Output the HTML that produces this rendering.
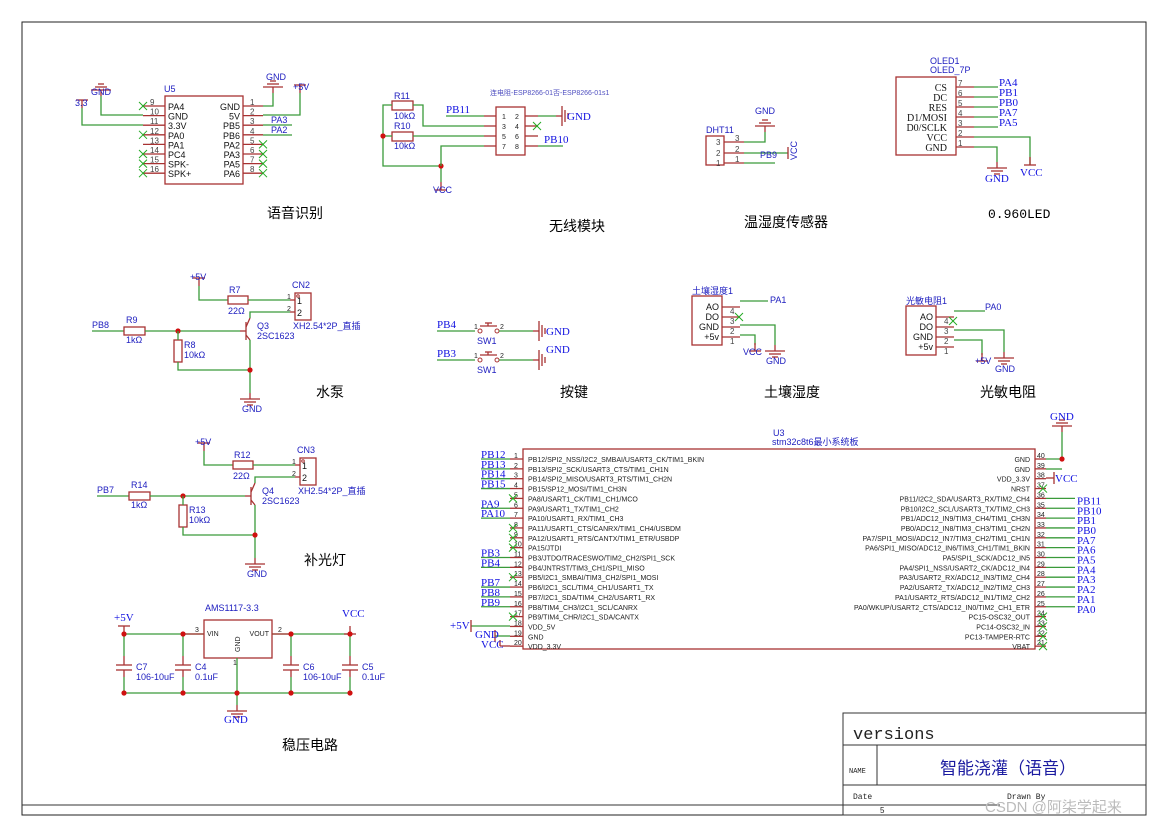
<!DOCTYPE html>
<html><head><meta charset="utf-8"><style>
body{margin:0;background:#fff}
svg{display:block}
text{font-family:"Liberation Sans","Noto Sans CJK SC",sans-serif}
.r{stroke:#a83232;fill:none;stroke-width:1.3}
.g{stroke:#3a9a3a;fill:none;stroke-width:1.3}
.lb{fill:#2020c0;font-size:9px}
.bl{fill:#1010e0;font-family:"Liberation Serif",serif;font-size:11px}
.k{fill:#111;font-size:9px}
.n{fill:#444;font-size:8px}
.s{fill:#222;font-size:7px}
.cn{fill:#000;font-size:14px;font-family:"Liberation Sans","Noto Sans CJK SC",sans-serif}
.x{stroke:#2a2;stroke-width:1}
.d{fill:#d01010}
</style></head><body>
<svg id="s" width="1170" height="825" viewBox="0 0 1170 825" xmlns="http://www.w3.org/2000/svg">
<rect x="22" y="22" width="1124" height="793" fill="none" stroke="#222" stroke-width="1"/>
<g stroke="#333" fill="none"><rect x="843" y="713" width="303" height="102"/><line x1="843" y1="745" x2="1146" y2="745"/><line x1="843" y1="785" x2="1146" y2="785"/><line x1="877" y1="745" x2="877" y2="785"/><line x1="22" y1="805" x2="1000" y2="805"/></g>
<text x="853" y="739" style="font-family:'Liberation Mono',monospace;font-size:17px" fill="#222">versions</text>
<text x="849" y="773" style="font-family:'Liberation Mono',monospace;font-size:7px" fill="#222">NAME</text>
<text x="940" y="774" style="font-size:17px" fill="#1a1aa0">智能浇灌（语音）</text>
<text x="853" y="799" style="font-family:'Liberation Mono',monospace;font-size:8px" fill="#222">Date</text>
<text x="1007" y="799" style="font-family:'Liberation Mono',monospace;font-size:8px" fill="#222">Drawn By</text>
<text x="880" y="813" style="font-size:8px" fill="#222">5</text>
<text x="985" y="812" style="font-size:15px" fill="#bbb">CSDN @阿柒学起来</text>
<g id="dyn"></g>
<text class="cn" x="267" y="218">语音识别</text>
<text class="cn" x="549" y="231">无线模块</text>
<text class="cn" x="744" y="227">温湿度传感器</text>
<text x="988" y="218" style="font-family:'Liberation Mono',monospace;font-size:13px" fill="#000">0.960LED</text>
<text class="cn" x="316" y="397">水泵</text>
<text class="cn" x="560" y="397">按键</text>
<text class="cn" x="764" y="397">土壤湿度</text>
<text class="cn" x="980" y="397">光敏电阻</text>
<text class="cn" x="304" y="565">补光灯</text>
<text class="cn" x="282" y="750">稳压电路</text>
<text x="490" y="95" style="font-size:7px" fill="#5050c0">连电阻-ESP8266-01否-ESP8266-01s1</text>
</svg>
<script>
var o='';
function L(c,a){for(var i=0;i<a.length;i+=4)o+='<line class="'+c+'" x1="'+a[i]+'" y1="'+a[i+1]+'" x2="'+a[i+2]+'" y2="'+a[i+3]+'"/>';}
function P(c,p){o+='<polyline class="'+c+'" points="'+p+'"/>';}
function R(x,y,w,h){o+='<rect class="r" x="'+x+'" y="'+y+'" width="'+w+'" height="'+h+'"/>';}
function T(c,x,y,t,a){o+='<text class="'+c+'" x="'+x+'" y="'+y+'"'+(a?' text-anchor="'+a+'"':'')+'>'+t+'</text>';}
function X(x,y){o+='<line class="x" x1="'+(x-4)+'" y1="'+(y-4)+'" x2="'+(x+4)+'" y2="'+(y+4)+'"/><line class="x" x1="'+(x-4)+'" y1="'+(y+4)+'" x2="'+(x+4)+'" y2="'+(y-4)+'"/>';}
function D(x,y){o+='<circle class="d" cx="'+x+'" cy="'+y+'" r="2.6"/>';}
function G(x,y){L('r',[x,y,x,y+6,x-10,y+6,x+10,y+6,x-6,y+9,x+6,y+9,x-3,y+12,x+3,y+12]);}
function GU(x,y){L('r',[x,y,x,y-6,x-10,y-6,x+10,y-6,x-6,y-9,x+6,y-9,x-3,y-12,x+3,y-12]);}
function GR(x,y){L('r',[x,y,x+6,y,x+6,y-10,x+6,y+10,x+9,y-6,x+9,y+6,x+12,y-3,x+12,y+3]);}
function V(x,y){L('r',[x,y,x,y-8,x-6,y-8,x+6,y-8]);}
function VD(x,y){L('r',[x,y,x,y+8,x-6,y+8,x+6,y+8]);}
// voice
R(165,96,78,88);T('lb',164,92,'U5');
var ll=['PA4','GND','3.3V','PA0','PA1','PC4','SPK-','SPK+'],rl=['GND','5V','PB5','PB6','PA2','PA3','PA5','PA6'];
for(var i=0;i<8;i++){var y=106+i*9.6;L('r',[143,y,165,y,243,y,263,y]);T('k',168,y+4,ll[i]);T('k',240,y+4,rl[i],'end');T('n',150,y-1,9+i);T('n',250,y-1,i+1);if(i>=4)X(263,y);if(i==0||i>=3&&i!=4)X(143,y);}
P('g','82,108 82,125 143,125');V(82,108);T('lb',75,106,'3.3');
P('g','101,96 101,115 143,115');GU(101,96);T('lb',91,95,'GND');
P('g','263,106 273,106 273,93');GU(273,93);T('lb',266,80,'GND');
P('g','263,115 300,115 300,93');V(300,93);T('lb',293,90,'+5V');
L('g',[263,125,292,125,263,135,292,135]);T('lb',271,123,'PA3');T('lb',271,133,'PA2');
// wireless
R(496,107,29,48);
var rows=[116,126,136,146];for(var i=0;i<4;i++){L('r',[484,rows[i],496,rows[i],525,rows[i],538,rows[i]]);T('s',502,rows[i]+3,2*i+1);T('s',515,rows[i]+3,2*i+2);}
R(392,101,21,9);R(392,132,21,9);
T('lb',394,99,'R11');T('lb',394,119,'10kΩ');T('lb',394,129,'R10');T('lb',394,149,'10kΩ');
P('g','392,105 383,105 383,166 441,166 441,182');P('g','383,136 392,136');D(383,136);D(441,166);
P('g','413,105 423,105 423,126 484,126');P('g','413,136 484,136');P('g','441,166 441,146 484,146');
VD(441,182);T('lb',433,193,'VCC');
L('g',[446,116,484,116]);T('bl',446,113,'PB11');
L('g',[538,116,556,116]);GR(556,116);T('bl',567,120,'GND');X(537,126);
L('g',[538,146,563,146]);T('bl',544,143,'PB10');
// DHT11
R(706,136,18,29);T('lb',706,133,'DHT11');
var dy=[142,153,163];for(var i=0;i<3;i++){L('r',[724,dy[i],744,dy[i]]);T('n',716,dy[i]+3,3-i);T('n',735,dy[i]-1,3-i);}
P('g','744,142 765,142 765,132');GU(765,132);T('lb',755,114,'GND');
L('g',[744,153,788,153]);L('r',[788,147,788,159]);
o+='<text class="lb" transform="translate(797,160) rotate(-90)">VCC</text>';T('lb',760,158,'PB9');
L('g',[744,163,775,163]);
// OLED
R(896,77,60,78);T('lb',930,64,'OLED1');T('lb',930,73,'OLED_7P');
var ol=['CS','DC','RES','D1/MOSI','D0/SCLK','VCC','GND'],pl=['PA4','PB1','PB0','PA7','PA5'];
for(var i=0;i<7;i++){var y=87+i*10;L('r',[956,y,974,y]);o+='<text x="947" y="'+(y+4)+'" text-anchor="end" style="font-family:Liberation Serif,serif;font-size:10px" fill="#111">'+ol[i]+'</text>';T('n',958,y-1,7-i);if(i<5){L('g',[974,y,998,y]);T('bl',999,y-1,pl[i]);}}
P('g','974,147 997,147 997,162');G(997,162);T('bl',985,182,'GND');
P('g','974,137 1030,137 1030,165');VD(1030,157);T('bl',1020,176,'VCC');
// pump & light
function drv(ox,oy,pb,rn,rb,rt,q,cn){
 V(ox+199,oy+286);T('lb',ox+190,oy+280,'+5V');
 P('g',(ox+199)+','+(oy+286)+' '+(ox+199)+','+(oy+300)+' '+(ox+228)+','+(oy+300));
 R(ox+228,oy+296,20,8);T('lb',ox+229,oy+293,rt);T('lb',ox+228,oy+314,'22Ω');
 L('g',[ox+248,oy+300,ox+290,oy+300]);L('r',[ox+290,oy+300,ox+295,oy+300,ox+290,oy+312,ox+295,oy+312]);
 R(ox+295,oy+293,16,27);T('lb',ox+292,oy+288,cn);T('k',ox+297,oy+304,'1');T('k',ox+297,oy+316,'2');T('s',ox+287,oy+299,'1');T('s',ox+287,oy+311,'2');
 o+='<circle cx="'+(ox+298)+'" cy="'+(oy+296)+'" r="1.3" fill="none" stroke="#a33"/>';
 T('lb',ox+293,oy+329,'XH2.54*2P_直插');
 L('g',[ox+92,oy+331,ox+124,oy+331]);T('lb',ox+92,oy+328,pb);
 R(ox+124,oy+327,21,8);T('lb',ox+126,oy+323,rn);T('lb',ox+126,oy+343,'1kΩ');
 L('g',[ox+145,oy+331,ox+240,oy+331]);D(ox+178,oy+331);
 R(ox+174,oy+340,8,22);T('lb',ox+184,oy+348,rb);T('lb',ox+184,oy+358,'10kΩ');
 L('g',[ox+178,oy+331,ox+178,oy+340]);P('g',(ox+178)+','+(oy+362)+' '+(ox+178)+','+(oy+370)+' '+(ox+250)+','+(oy+370));
 L('r',[ox+240,oy+331,ox+246,oy+331,ox+246,oy+322,ox+246,oy+340,ox+246,oy+327,ox+250,oy+318,ox+246,oy+335,ox+250,oy+340]);
 P('g',(ox+250)+','+(oy+318)+' '+(ox+250)+','+(oy+312)+' '+(ox+290)+','+(oy+312));
 L('g',[ox+250,oy+340,ox+250,oy+393]);D(ox+250,oy+370);G(ox+250,oy+393);T('lb',ox+242,oy+412,'GND');
 T('lb',ox+257,oy+329,q);T('lb',ox+257,oy+339,'2SC1623');
}
drv(0,0,'PB8','R9','R8','R7','Q3','CN2');
drv(5,165,'PB7','R14','R13','R12','Q4','CN3');
// buttons
function btn(y,pb){L('g',[437,y,475,y]);T('bl',437,y-3,pb);T('s',474,y-2,'1');T('s',500,y-2,'2');
 o+='<circle cx="480" cy="'+y+'" r="2" fill="none" stroke="#a33"/><circle cx="497" cy="'+y+'" r="2" fill="none" stroke="#a33"/>';
 L('r',[480,y-5,497,y-5,488,y-5,488,y-8,485,y-8,492,y-8]);T('lb',477,y+13,'SW1');L('g',[499,y,533,y]);GR(533,y);}
btn(331,'PB4');T('bl',546,335,'GND');btn(360,'PB3');T('bl',546,353,'GND');
// sensors
function sens(x,y,lab){R(x,y,30,49);T('lb',x,y-2,lab);var t=['AO','DO','GND','+5v'];
 for(var i=0;i<4;i++){var yy=y+11+i*10;T('k',x+27,yy+3,t[i],'end');L('r',[x+30,yy,x+48,yy]);T('n',x+38,yy+7,4-i);}}
sens(692,296,'土壤湿度1');L('g',[740,301,768,301]);T('lb',770,303,'PA1');X(739,317);
P('g','740,325 775,325 775,345');G(775,345);T('lb',766,364,'GND');
P('g','740,335 755,335 755,345');VD(755,343);T('lb',743,355,'VCC');
sens(906,306,'光敏电阻1');L('g',[954,311,985,311]);T('lb',985,310,'PA0');X(953,321);
P('g','954,330 1004,330 1004,352');G(1004,352);T('lb',995,372,'GND');
P('g','954,340 982,340 982,355');VD(982,353);T('lb',975,364,'+5V');
// regulator
R(204,620,68,38);T('lb',205,611,'AMS1117-3.3');T('s',207,636,'VIN');T('s',269,636,'VOUT','end');
o+='<text class="s" transform="translate(240,652) rotate(-90)">GND</text>';T('s',195,632,'3');T('s',278,632,'2');T('s',233,665,'1');
L('g',[124,634,204,634,272,634,350,634,124,693,350,693]);L('r',[185,634,204,634,272,634,290,634]);
V(124,634);T('bl',114,621,'+5V');VD(350,626);T('bl',342,617,'VCC');
[[124,'C7','106-10uF'],[183,'C4','0.1uF'],[291,'C6','106-10uF'],[350,'C5','0.1uF']].forEach(function(c){var x=c[0];
 L('g',[x,634,x,656,x,677,x,693]);L('r',[x,656,x,665,x-8,665,x+8,665,x-8,670,x+8,670,x,670,x,677]);D(x,634);D(x,693);T('lb',x+12,670,c[1]);T('lb',x+12,680,c[2]);});
L('g',[237,658,237,705]);D(237,693);G(237,705);T('bl',224,723,'GND');
// STM32
R(523,449,512,200);T('lb',773,436,'U3');T('lb',772,445,'stm32c8t6最小系统板');
var Lp=['PB12/SPI2_NSS/I2C2_SMBAI/USART3_CK/TIM1_BKIN','PB13/SPI2_SCK/USART3_CTS/TIM1_CH1N','PB14/SPI2_MISO/USART3_RTS/TIM1_CH2N','PB15/SP12_MOSI/TIM1_CH3N','PA8/USART1_CK/TIM1_CH1/MCO','PA9/USART1_TX/TIM1_CH2','PA10/USART1_RX/TIM1_CH3','PA11/USART1_CTS/CANRX/TIM1_CH4/USBDM','PA12/USART1_RTS/CANTX/TIM1_ETR/USBDP','PA15/JTDI','PB3/JTDO/TRACESWO/TIM2_CH2/SPI1_SCK','PB4/JNTRST/TIM3_CH1/SPI1_MISO','PB5/I2C1_SMBAI/TIM3_CH2/SPI1_MOSI','PB6/I2C1_SCL/TIM4_CH1/USART1_TX','PB7/I2C1_SDA/TIM4_CH2/USART1_RX','PB8/TIM4_CH3/I2C1_SCL/CANRX','PB9/TIM4_CHR/I2C1_SDA/CANTX','VDD_5V','GND','VDD_3.3V'];
var Ln=['PB12','PB13','PB14','PB15','','PA9','PA10','','','','PB3','PB4','','PB7','PB8','PB9'];
var Rp=['GND','GND','VDD_3.3V','NRST','PB11/I2C2_SDA/USART3_RX/TIM2_CH4','PB10/I2C2_SCL/USART3_TX/TIM2_CH3','PB1/ADC12_IN9/TIM3_CH4/TIM1_CH3N','PB0/ADC12_IN8/TIM3_CH3/TIM1_CH2N','PA7/SPI1_MOSI/ADC12_IN7/TIM3_CH2/TIM1_CH1N','PA6/SPI1_MISO/ADC12_IN6/TIM3_CH1/TIM1_BKIN','PA5/SPI1_SCK/ADC12_IN5','PA4/SPI1_NSS/USART2_CK/ADC12_IN4','PA3/USART2_RX/ADC12_IN3/TIM2_CH4','PA2/USART2_TX/ADC12_IN2/TIM2_CH3','PA1/USART2_RTS/ADC12_IN1/TIM2_CH2','PA0/WKUP/USART2_CTS/ADC12_IN0/TIM2_CH1_ETR','PC15-OSC32_OUT','PC14-OSC32_IN','PC13-TAMPER-RTC','VBAT'];
var Rn=['','','','','PB11','PB10','PB1','PB0','PA7','PA6','PA5','PA4','PA3','PA2','PA1','PA0'];
for(var i=0;i<20;i++){var y=459+i*9.85;
 L('r',[510,y,523,y,1035,y,1046,y]);T('s',528,y+3,Lp[i]);T('s',1030,y+3,Rp[i],'end');T('s',514,y-1,i+1);T('s',1037,y-1,40-i);
 if(Ln[i]){L('g',[481,y,510,y]);T('bl',481,y-1,Ln[i]);}else if(i<17)X(513,y);
 if(Rn[i]){L('g',[1046,y,1075,y]);T('bl',1077,y+6,Rn[i]);}else if(i==3||i>=16)X(1043,y);}
P('g','1046,459 1062,459 1062,432');D(1062,459);L('g',[1046,469,1062,469]);GU(1062,432);T('bl',1050,420,'GND');
L('r',[1046,478,1054,478,1054,472,1054,484]);T('bl',1055,482,'VCC');
L('g',[471,626,510,626]);L('r',[471,620,471,632]);T('bl',450,629,'+5V');
L('g',[495,636,510,636]);L('r',[495,630,495,642]);T('bl',475,638,'GND');
L('r',[500,646,510,646,500,646,500,640]);T('bl',481,648,'VCC');
document.getElementById('dyn').innerHTML=o;
</script>
</body></html>
